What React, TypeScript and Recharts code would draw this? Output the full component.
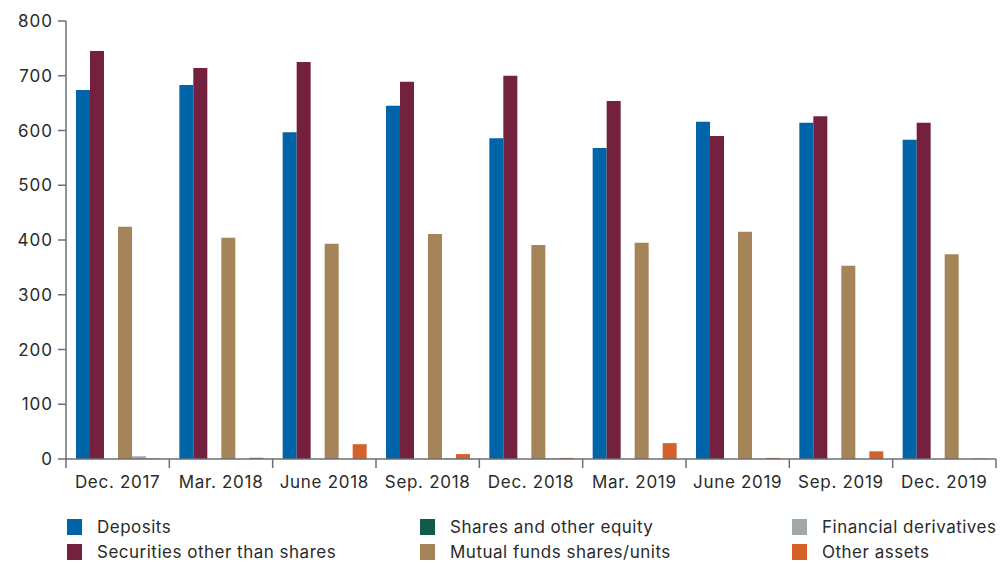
import { Bar, BarChart, Legend, XAxis, YAxis } from 'recharts';

const FONT = 'Inter, sans-serif';
const TEXT = '#2a2a2a';
const AXIS = '#6d6e71';

const periods = [
  'Dec. 2017',
  'Mar. 2018',
  'June 2018',
  'Sep. 2018',
  'Dec. 2018',
  'Mar. 2019',
  'June 2019',
  'Sep. 2019',
  'Dec. 2019',
];

const deposits = [674, 683, 597, 645, 586, 568, 616, 614, 583];
const securities = [745, 714, 725, 689, 700, 654, 590, 626, 614];
const sharesEquity = [0, 0, 0, 0, 0, 0, 0, 0, 0];
const mutualFunds = [424, 404, 393, 411, 391, 395, 415, 353, 374];
const derivatives = [5, 0, 0, 1, 1, 0, 0, 0, 0];
const otherAssets = [1, 2.5, 27, 9, 2, 29, 2, 14, 1];

const yTicks = [0, 100, 200, 300, 400, 500, 600, 700, 800];

const series = [
  { key: 'deposits', name: 'Deposits', color: '#0064a8', values: deposits },
  { key: 'securities', name: 'Securities other than shares', color: '#74203f', values: securities },
  { key: 'shares', name: 'Shares and other equity', color: '#115a4e', values: sharesEquity },
  { key: 'mutual', name: 'Mutual funds shares/units', color: '#a6845a', values: mutualFunds },
  { key: 'derivatives', name: 'Financial derivatives', color: '#a0a8ab', values: derivatives },
  { key: 'other', name: 'Other assets', color: '#d4602a', values: otherAssets },
];

const data = periods.map((period, i) => {
  const row: Record<string, string | number> = { period };
  series.forEach((s) => {
    row[s.key] = s.values[i];
  });
  return row;
});

// legend is laid out column-wise, two entries per column
const legendCols = [
  [series[0], series[1]],
  [series[2], series[3]],
  [series[4], series[5]],
];
const colLeft = [67, 420, 792];

function LegendBox() {
  return (
    <div style={{ position: 'relative', height: 50, fontFamily: FONT }}>
      {legendCols.map((col, ci) => (
        <div key={ci} style={{ position: 'absolute', left: colLeft[ci], top: 0 }}>
          {col.map((s) => (
            <div key={s.key} style={{ display: 'flex', alignItems: 'center', height: 25.5 }}>
              <span style={{ display: 'inline-block', width: 15, height: 16, background: s.color, marginRight: 15 }} />
              <span style={{ fontSize: 17, color: TEXT, lineHeight: '20px', whiteSpace: 'nowrap', letterSpacing: 0.5 }}>
                {s.name}
              </span>
            </div>
          ))}
        </div>
      ))}
    </div>
  );
}

function PeriodTick(props: any) {
  const { x, y, payload, index, visibleTicksCount } = props;
  const half = payload.offset ?? 51.7;
  const last = index === visibleTicksCount - 1;
  return (
    <g>
      <line x1={x - half} x2={x - half} y1={y - 8} y2={y + 1} stroke={AXIS} strokeWidth={1.5} />
      {last && <line x1={x + half} x2={x + half} y1={y - 8} y2={y + 1} stroke={AXIS} strokeWidth={1.5} />}
      <text x={x} y={y + 21} textAnchor="middle" fill={TEXT} fontSize={17} fontFamily={FONT} letterSpacing={0.7}>
        {payload.value}
      </text>
    </g>
  );
}

export default function App() {
  return (
    <div style={{ position: 'absolute', left: 0, top: 0, width: 1008, height: 563, overflow: 'hidden' }}>
      <BarChart
        width={1008}
        height={563}
        data={data}
        margin={{ top: 21, right: 12, left: 0, bottom: 24 }}
        barGap={0}
        barCategoryGap={10}
      >
        <XAxis
          dataKey="period"
          height={30}
          tickLine={false}
          axisLine={{ stroke: AXIS, strokeWidth: 1.5 }}
          tick={<PeriodTick />}
          interval={0}
        />
        <YAxis
          width={66}
          domain={[0, 800]}
          ticks={yTicks}
          tickSize={8}
          tickMargin={5}
          axisLine={{ stroke: AXIS, strokeWidth: 1.5 }}
          tickLine={{ stroke: AXIS, strokeWidth: 1.5 }}
          tick={{ fontSize: 17, fill: TEXT, fontFamily: FONT, letterSpacing: 1 }}
        />
        <Legend
          verticalAlign="bottom"
          content={<LegendBox />}
          wrapperStyle={{ top: 514, left: 0, bottom: 'auto', width: 1008, height: 50, overflow: 'visible' }}
        />
        {series.map((s) => (
          <Bar key={s.key} dataKey={s.key} name={s.name} fill={s.color} isAnimationActive={false} />
        ))}
      </BarChart>
    </div>
  );
}
